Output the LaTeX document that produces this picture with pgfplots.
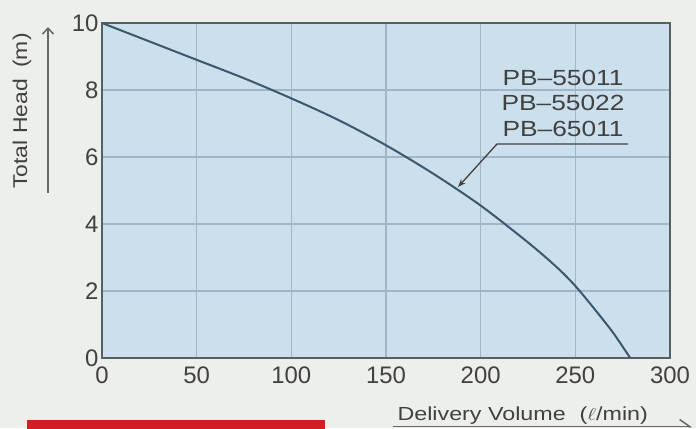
\documentclass[border=0pt]{standalone}
\usepackage{pgfplots}
\pgfplotsset{compat=1.18}
\usepackage{fontspec}
\setmainfont{Liberation Sans}
\usetikzlibrary{arrows.meta}

\definecolor{bgc}{RGB}{237,239,234}
\definecolor{plotc}{RGB}{203,224,236}
\definecolor{gridc}{RGB}{158,182,197}
\definecolor{boxc}{RGB}{85,95,100}
\definecolor{curvec}{RGB}{60,88,110}
\definecolor{txtc}{RGB}{65,65,65}
\definecolor{redc}{RGB}{210,30,35}

\begin{document}
\begin{tikzpicture}[x=1bp,y=1bp]
  \fill[bgc] (0,0) rectangle (696,428);
  \useasboundingbox (0,0) rectangle (696,428);

  \begin{axis}[
      at={(102bp,70bp)}, anchor=south west,
      scale only axis, width=568bp, height=335bp,
      xmin=0, xmax=300, ymin=0, ymax=10,
      xtick={0,50,...,300}, ytick={0,2,...,10},
      grid=major,
      major grid style={gridc, line width=1.2bp},
      axis line style={boxc, line width=2.2bp},
      axis background/.style={fill=plotc},
      tick style={draw=none},
      ticklabel style={font=\fontsize{24}{24}\selectfont, text=txtc},
      xticklabel style={yshift=-5bp},
      /pgf/number format/assume math mode=true,
    ]
    % pump curve
    \addplot[curvec, line width=2bp, smooth] coordinates {
      (0,10) (25,9.45) (50,8.9) (75,8.35) (100,7.75) (125,7.1)
      (150,6.35) (175,5.5) (200,4.55) (225,3.45) (240,2.72)
      (250,2.15) (260,1.47) (270,0.75) (279,0)
    };
  \end{axis}

  % model names with leader arrow
  \begin{scope}[font=\fontsize{22}{22}\selectfont, text=txtc]
    \node[anchor=base] at (563,343) {\scalebox{1.2}[1]{PB–55011}};
    \node[anchor=base] at (563,318) {\scalebox{1.2}[1]{PB–55022}};
    \node[anchor=base] at (563,292) {\scalebox{1.2}[1]{PB–65011}};
  \end{scope}
  \draw[txtc, line width=1.3bp, -{Stealth[length=8bp,width=6bp]}]
    (628,284) -- (497,284) -- (458,241);

  % axis titles with arrows
  \node[rotate=90, text=txtc, font=\fontsize{20}{20}\selectfont]
    at (22,317) {\scalebox{1.15}[1]{Total Head\hspace{0.5em}(m)}};
  \draw[txtc!80, line width=1.5bp, -{Straight Barb[length=6bp,width=11bp]}]
    (48,235) -- (48,401);

  \node[anchor=base west, text=txtc, font=\fontsize{19}{19}\selectfont]
    at (394,8) {\scalebox{1.23}[1]{Delivery Volume\hspace{0.6em}($\ell$/min)}};
  \draw[txtc!80, line width=1.5bp, -{Straight Barb[left,length=10bp,width=14bp]}]
    (393,1.5) -- (692,1.5);

  \fill[redc] (27,-5) rectangle (325,8);
\end{tikzpicture}
\end{document}
